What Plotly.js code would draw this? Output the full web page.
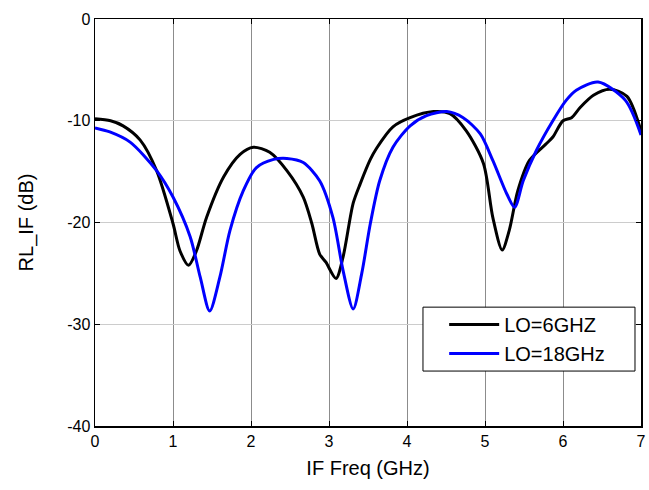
<!DOCTYPE html>
<html>
<head>
<meta charset="utf-8">
<script src="https://cdn.plot.ly/plotly-3.0.1.min.js"></script>
<style>html,body{margin:0;padding:0;background:#fff;}#chart{width:649px;height:490px;}</style>
</head>
<body>
<div id="chart"></div>
<script>
const seriesNames = ["LO=6GHZ", "LO=18GHz"];
const lo6X = [0, 0.2, 0.36, 0.58, 0.79, 1.0, 1.09, 1.2, 1.3, 1.43, 1.65, 1.86, 2.03, 2.24, 2.46, 2.67, 2.78, 2.88, 2.96, 3.09, 3.18, 3.31, 3.4, 3.53, 3.61, 3.82, 4.04, 4.34, 4.55, 4.76, 4.98, 5.1, 5.22, 5.31, 5.42, 5.57, 5.78, 5.87, 6.0, 6.11, 6.22, 6.39, 6.6, 6.82, 7.0];
const lo6Y = [-9.8, -10.0, -10.5, -11.9, -14.9, -20.1, -22.8, -24.2, -22.8, -19.5, -15.5, -13.3, -12.6, -13.1, -14.9, -17.5, -20.1, -23.1, -23.9, -25.5, -23.4, -18.1, -16.2, -13.8, -12.7, -10.6, -9.7, -9.1, -9.3, -11.0, -14.2, -19.5, -22.7, -20.8, -16.9, -13.9, -12.3, -11.6, -10.0, -9.7, -8.7, -7.5, -6.9, -7.6, -11.0];
const lo18X = [0, 0.19, 0.45, 0.79, 1.0, 1.22, 1.35, 1.47, 1.6, 1.73, 1.9, 2.07, 2.29, 2.46, 2.67, 2.88, 3.05, 3.18, 3.31, 3.42, 3.53, 3.65, 3.82, 4.04, 4.25, 4.51, 4.72, 4.94, 5.1, 5.28, 5.38, 5.49, 5.66, 5.87, 6.04, 6.17, 6.45, 6.8, 7.0];
const lo18Y = [-10.7, -11.1, -12.1, -14.9, -17.5, -21.4, -25.4, -28.7, -25.4, -20.8, -16.9, -14.6, -13.8, -13.7, -14.1, -15.9, -19.5, -24.7, -28.5, -25.0, -20.1, -15.9, -12.6, -10.5, -9.5, -9.1, -9.7, -11.3, -13.9, -17.2, -18.5, -15.9, -12.9, -10.0, -8.0, -7.0, -6.2, -8.0, -11.4];
const xTicks = [0, 1, 2, 3, 4, 5, 6, 7];
const yTicks = [0, -10, -20, -30, -40];
const yTickLabels = ["0", "-10", "-20", "-30", "-40"];

const traces = [
  {x: lo6X, y: lo6Y, name: seriesNames[0], type: 'scatter', mode: 'lines',
   line: {color: '#000000', width: 3, shape: 'spline', smoothing: 0.8}},
  {x: lo18X, y: lo18Y, name: seriesNames[1], type: 'scatter', mode: 'lines',
   line: {color: '#0000ff', width: 3, shape: 'spline', smoothing: 0.8}}
];
const layout = {
  width: 649, height: 490,
  margin: {l: 95, r: 8, t: 19, b: 64},
  paper_bgcolor: '#fff', plot_bgcolor: '#fff',
  font: {family: 'Liberation Sans, Arial, sans-serif', size: 16, color: '#000'},
  showlegend: true,
  legend: {x: 0.6395, y: 0.2138, xanchor: 'left', yanchor: 'middle', bgcolor: 'rgba(0,0,0,0)',
    borderwidth: 0, font: {size: 20}, tracegroupgap: 0, itemwidth: 50},
  shapes: [{type: 'rect', xref: 'paper', yref: 'paper', x0: 0.6007, x1: 0.989, y0: 0.135, y1: 0.292,
    line: {color: '#000', width: 1}, fillcolor: '#fff', layer: 'above'}],
  xaxis: {range: [0, 7], tickvals: xTicks, ticks: 'inside', ticklen: 5, tickcolor: '#000',
    showline: true, linecolor: '#000', linewidth: 1.5, mirror: 'ticks',
    showgrid: true, gridcolor: '#8c8c8c', gridwidth: 1, zeroline: false,
    title: {text: 'IF Freq (GHz)', font: {size: 20}, standoff: 12}},
  yaxis: {range: [-40, 0], tickvals: yTicks, ticktext: yTickLabels, ticks: 'inside', ticklen: 5, tickcolor: '#000',
    showline: true, linecolor: '#000', linewidth: 1.5, mirror: 'ticks',
    showgrid: true, gridcolor: '#cccccc', gridwidth: 1, zeroline: false,
    title: {text: 'RL_IF (dB)', font: {size: 20}, standoff: 28}}
};
Plotly.newPlot('chart', traces, layout, {displayModeBar: false, staticPlot: true});
</script>
</body>
</html>
